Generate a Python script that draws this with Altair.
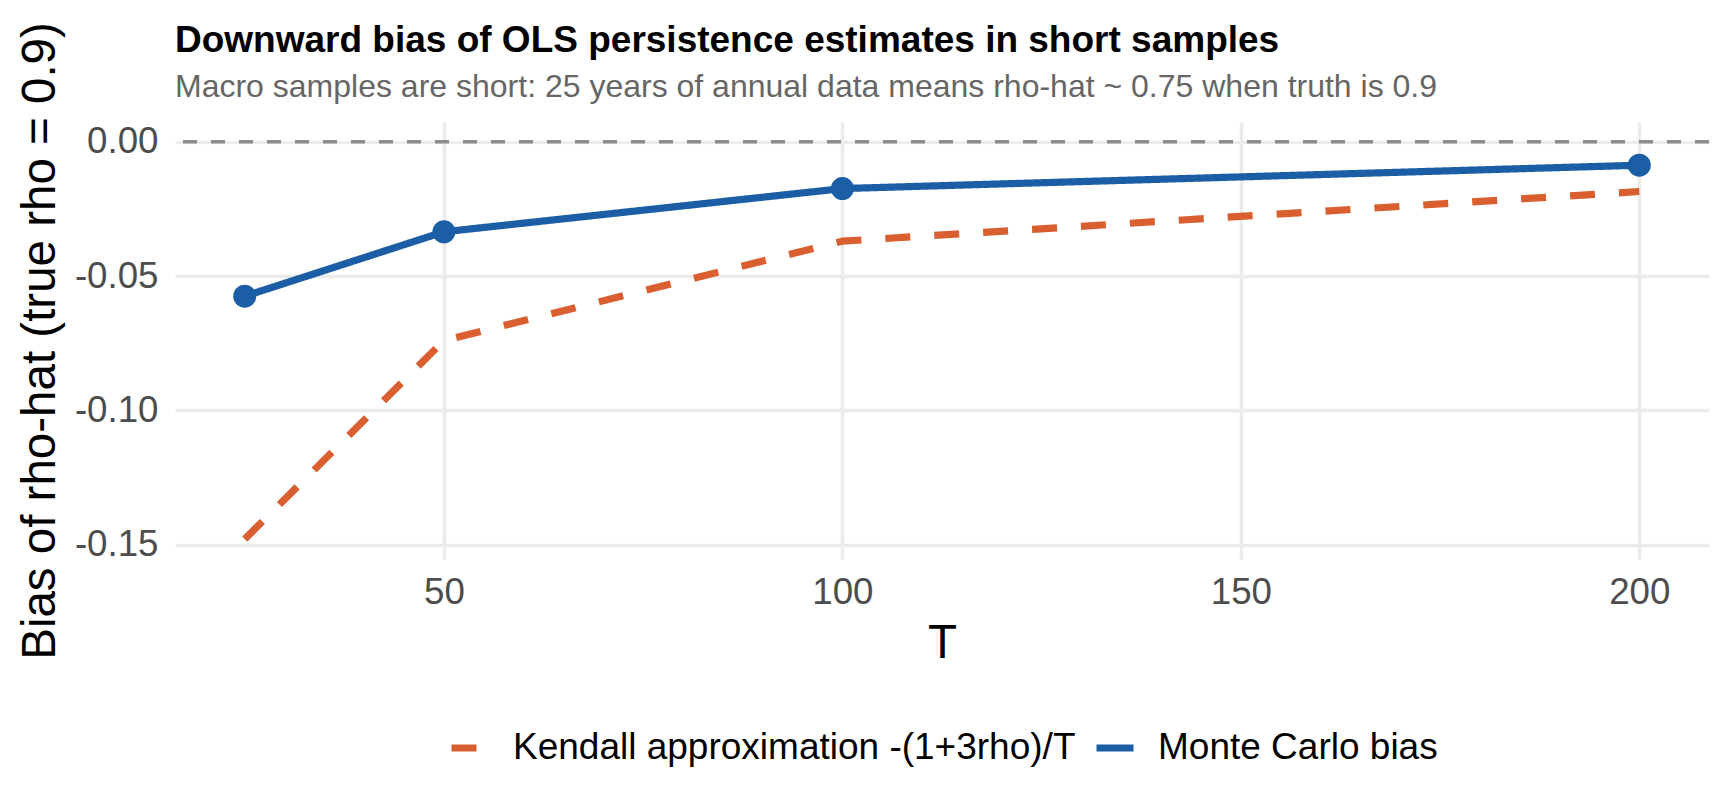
import altair as alt
import pandas as pd

# ---- data ----
T_values = [25, 50, 100, 200]
monte_carlo_bias = [-0.0575, -0.0335, -0.0174, -0.0087]
kendall_bias = [-0.148, -0.074, -0.037, -0.0185]
series_names = ["Kendall approximation -(1+3rho)/T", "Monte Carlo bias"]
series_colors = ["#D95F30", "#1B5EA6"]
x_ticks = [50, 100, 150, 200]
y_ticks = [0.0, -0.05, -0.10, -0.15]

rows = []
for t, v in zip(T_values, kendall_bias):
    rows.append({"T": t, "bias": v, "series": series_names[0]})
for t, v in zip(T_values, monte_carlo_bias):
    rows.append({"T": t, "bias": v, "series": series_names[1]})
df = pd.DataFrame(rows)
df_mc = df[df["series"] == series_names[1]]
df_zero = pd.DataFrame({"y": [0.0]})

FONT = "Liberation Sans"

x_scale = alt.Scale(domain=[16.25, 208.75], nice=False, zero=False)
y_scale = alt.Scale(domain=[-0.1554, 0.0074], nice=False, zero=False)

x_enc = alt.X(
    "T:Q",
    scale=x_scale,
    title="T",
    axis=alt.Axis(values=x_ticks, labelPadding=15, titlePadding=9),
)
y_enc = alt.Y(
    "bias:Q",
    scale=y_scale,
    title="Bias of rho-hat (true rho = 0.9)",
    axis=alt.Axis(
        values=y_ticks,
        labelExpr="datum.value < 0 ? '-' + format(abs(datum.value), '.2f') : format(datum.value, '.2f')",
        labelPadding=17,
        titlePadding=10,
    ),
)

zero_line = alt.Chart(df_zero).mark_rule(
    color="#8C8C8C", strokeWidth=3.5, strokeDash=[14, 14]
).encode(y=alt.Y("y:Q", scale=y_scale))

lines = alt.Chart(df).mark_line(strokeWidth=7.2).encode(
    x=x_enc,
    y=y_enc,
    color=alt.Color(
        "series:N",
        scale=alt.Scale(domain=series_names, range=series_colors),
        legend=alt.Legend(title=None),
    ),
    strokeDash=alt.StrokeDash(
        "series:N",
        scale=alt.Scale(domain=series_names, range=[[25, 24], [1, 0]]),
        legend=alt.Legend(title=None),
    ),
)

points = alt.Chart(df_mc).mark_point(
    filled=True, size=530, opacity=1, color="#1B5EA6"
).encode(x=alt.X("T:Q", scale=x_scale), y=alt.Y("bias:Q", scale=y_scale))

chart = (
    alt.layer(zero_line, lines, points)
    .properties(
        width=1534,
        height=437,
        autosize=alt.AutoSizeParams(type="none"),
        padding={"left": 167, "top": 114, "right": 10, "bottom": 230},
        title=alt.TitleParams(
            text="Downward bias of OLS persistence estimates in short samples",
            subtitle="Macro samples are short: 25 years of annual data means rho-hat ~ 0.75 when truth is 0.9",
            anchor="start",
            frame="group",
            font=FONT,
            fontSize=37,
            fontWeight="bold",
            color="#000000",
            subtitleFont=FONT,
            subtitleFontSize=32,
            subtitleColor="#666666",
            subtitlePadding=12,
            offset=-82,
        ),
    )
    .configure_view(stroke=None)
    .configure_axis(
        grid=True,
        gridColor="#EBEBEB",
        gridWidth=3.5,
        domain=False,
        ticks=False,
        tickSize=0,
        labelFont=FONT,
        labelFontSize=36.7,
        labelColor="#4D4D4D",
        titleFont=FONT,
        titleFontSize=47.5,
        titleFontWeight="normal",
        titleColor="#000000",
    )
    .configure_legend(
        orient="none",
        legendX=273,
        legendY=604,
        direction="horizontal",
        symbolType="stroke",
        symbolSize=1369,
        symbolStrokeWidth=7,
        labelFont=FONT,
        labelFontSize=37,
        labelColor="#000000",
        labelOffset=21,
        columnPadding=6,
        padding=0,
        labelLimit=1000,
    )
)

chart.save("out.html", embed_options={"renderer": "svg", "actions": False})
